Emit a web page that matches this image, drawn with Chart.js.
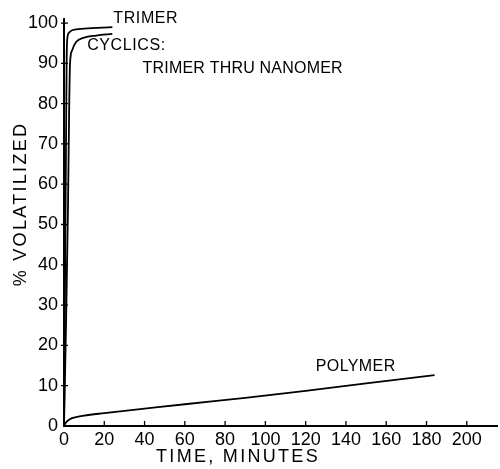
<!DOCTYPE html>
<html>
<head>
<meta charset="utf-8">
<script src="https://cdn.jsdelivr.net/npm/chart.js@4.4.1/dist/chart.umd.min.js"></script>
<style>
  html, body { margin: 0; padding: 0; background: #fff; }
  #wrap { width: 500px; height: 469px; }
</style>
</head>
<body>
<div id="wrap"><canvas id="chart"></canvas></div>
<script>
// time in minutes vs. % volatilized for each material
const trimerTime = [0, 0.5, 1, 1.3, 1.6, 2.5, 4, 10, 24];
const trimerPct = [0, 35, 70, 90, 96, 97.6, 98.2, 98.6, 99];

const cyclicsTime = [0, 1, 2, 2.6, 3, 4, 6, 10, 16, 24];
const cyclicsPct = [0, 25, 55, 80, 90, 93.2, 95.3, 96.4, 96.9, 97.3];

const polymerTime = [0, 1, 3, 6, 10, 20, 40, 60, 90, 120, 150, 184];
const polymerPct = [0, 0.9, 1.7, 2.2, 2.6, 3.2, 4.3, 5.4, 7.0, 8.7, 10.6, 12.6];

const xTicks = [0, 20, 40, 60, 80, 100, 120, 140, 160, 180, 200];
const yTicks = [0, 10, 20, 30, 40, 50, 60, 70, 80, 90, 100];

const FONT = 'Liberation Sans';

function pairs(xs, ys) {
  return xs.map((t, i) => ({ x: t, y: ys[i] }));
}

function curve(label, xs, ys) {
  return {
    label,
    data: pairs(xs, ys),
    borderColor: '#000',
    borderWidth: 1.8,
    pointRadius: 0,
    fill: false,
    cubicInterpolationMode: 'monotone',
  };
}

// small tick marks, curve labels and axis titles
const decorations = {
  id: 'decorations',
  afterDraw(chart) {
    const { ctx, scales: { x, y } } = chart;
    ctx.save();
    ctx.strokeStyle = '#000';
    ctx.lineWidth = 1.3;
    ctx.beginPath();
    yTicks.slice(1).forEach(v => {
      const py = y.getPixelForValue(v);
      ctx.moveTo(x.left - 3, py);
      ctx.lineTo(x.left + 4, py);
    });
    xTicks.slice(1).forEach(v => {
      const px = x.getPixelForValue(v);
      ctx.moveTo(px, y.bottom);
      ctx.lineTo(px, y.bottom - 5);
    });
    ctx.stroke();

    ctx.fillStyle = '#000';
    ctx.textBaseline = 'middle';
    ctx.textAlign = 'left';
    ctx.font = '16px "' + FONT + '"';
    ctx.letterSpacing = '0.6px';
    ctx.fillText('TRIMER', x.getPixelForValue(24.5), 19);
    ctx.fillText('CYCLICS:', x.getPixelForValue(11.5), 46);
    ctx.letterSpacing = '0.2px';
    ctx.fillText('TRIMER THRU NANOMER', x.getPixelForValue(39), 69);
    ctx.letterSpacing = '0.4px';
    ctx.fillText('POLYMER', x.getPixelForValue(125), 367);

    ctx.font = '18px "' + FONT + '"';
    ctx.letterSpacing = '2.3px';
    ctx.textAlign = 'center';
    ctx.fillText('TIME, MINUTES', 238, 457);

    ctx.translate(21, 204);
    ctx.rotate(-Math.PI / 2);
    ctx.fillText('% VOLATILIZED', 0, 0);
    ctx.restore();
  }
};

new Chart(document.getElementById('chart'), {
  type: 'line',
  data: {
    datasets: [
      curve('Trimer', trimerTime, trimerPct),
      curve('Cyclics: trimer thru nanomer', cyclicsTime, cyclicsPct),
      curve('Polymer', polymerTime, polymerPct),
    ],
  },
  options: {
    responsive: true,
    maintainAspectRatio: false,
    animation: false,
    layout: { padding: { top: 19, right: 3, bottom: 0, left: 0 } },
    plugins: {
      legend: { display: false },
      tooltip: { enabled: false },
    },
    scales: {
      x: {
        type: 'linear',
        min: 0,
        max: 215,
        afterBuildTicks: s => { s.ticks = xTicks.map(v => ({ value: v })); },
        afterFit: s => { s.height = 43; },
        grid: { drawOnChartArea: false, drawTicks: false },
        border: { color: '#000', width: 2 },
        ticks: {
          color: '#000',
          padding: 3,
          maxRotation: 0,
          autoSkip: false,
          font: { family: FONT, size: 18 },
        },
      },
      y: {
        min: 0,
        max: 101,
        afterBuildTicks: s => { s.ticks = yTicks.map(v => ({ value: v })); },
        afterFit: s => { s.width = 64; },
        grid: { drawOnChartArea: false, drawTicks: false },
        border: { color: '#000', width: 2 },
        ticks: {
          color: '#000',
          padding: 6,
          autoSkip: false,
          font: { family: FONT, size: 18 },
        },
      },
    },
  },
  plugins: [decorations],
});
</script>
</body>
</html>
